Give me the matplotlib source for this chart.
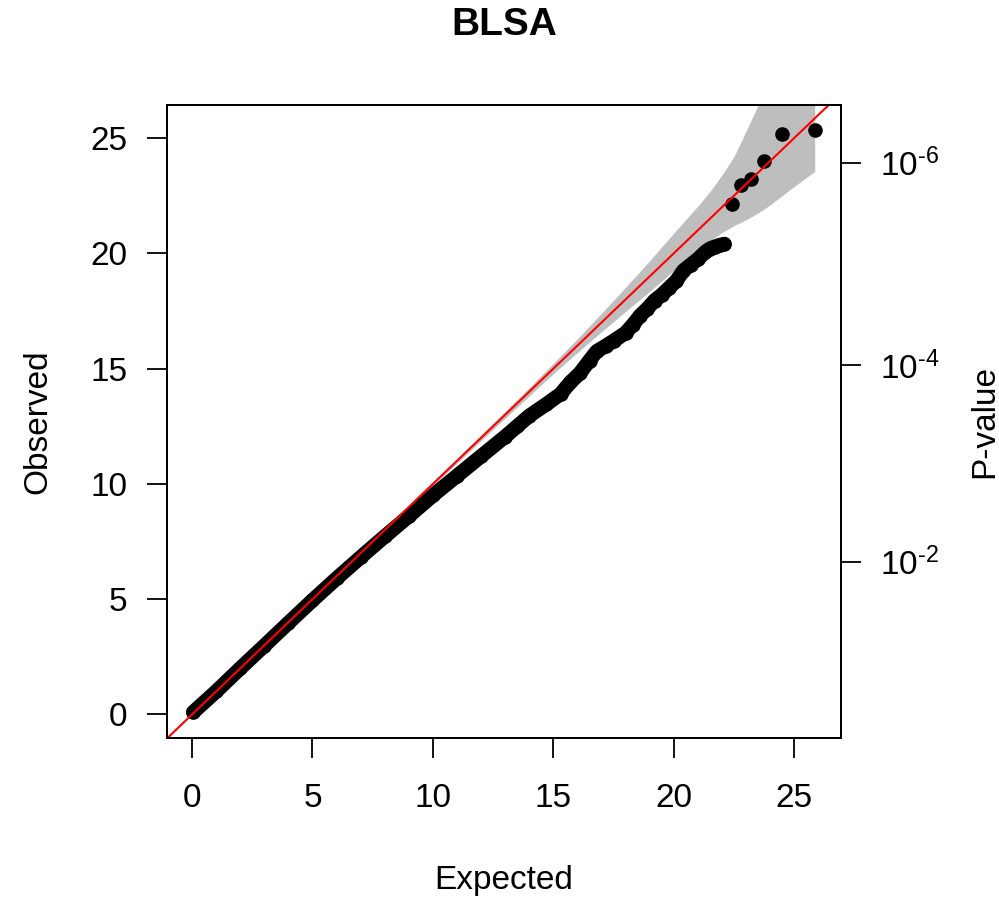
import matplotlib
matplotlib.use("Agg")
import matplotlib.pyplot as plt

plt.rcParams['font.family'] = ['Liberation Sans', 'DejaVu Sans']
plt.rcParams['mathtext.fontset'] = 'custom'
plt.rcParams['mathtext.rm'] = 'Liberation Sans'
plt.rcParams['mathtext.it'] = 'Liberation Sans'
plt.rcParams['mathtext.bf'] = 'Liberation Sans:bold'

# ---- data ----
title = "BLSA"
x_ticks = [0, 5, 10, 15, 20, 25]
y_ticks = [0, 5, 10, 15, 20, 25]
pval_tick_pos = [6.63, 15.14, 23.93]
pval_tick_labels = [r'$\mathregular{10^{\text{-}2}}$', r'$\mathregular{10^{\text{-}4}}$',
                    r'$\mathregular{10^{\text{-}6}}$']

# dense part of the QQ curve (expected, observed)
dense_expected = [0.05, 1.0, 2.0, 3.0, 4.0, 5.0, 6.0, 7.0, 8.0, 9.0, 10.0, 11.0, 12.0,
                  13.0, 13.5, 14.0, 14.7, 15.3, 15.7, 16.1, 16.5, 16.8, 17.2, 17.5,
                  18.0, 18.3, 18.6, 18.9, 19.2, 19.5, 19.8, 20.1, 20.4, 20.7, 21.0,
                  21.3, 21.5, 21.7, 21.9, 22.1]
dense_observed = [0.10, 1.0, 2.0, 2.98, 3.97, 4.95, 5.9, 6.82, 7.72, 8.6, 9.5, 10.35, 11.2,
                  12.05, 12.5, 12.95, 13.45, 13.9, 14.4, 14.8, 15.35, 15.75, 16.0, 16.2,
                  16.55, 16.9, 17.3, 17.6, 17.95, 18.2, 18.5, 18.8, 19.25, 19.5, 19.75,
                  20.05, 20.2, 20.28, 20.35, 20.4]

# separated top points
top_expected = [22.43, 22.77, 23.22, 23.73, 24.51, 25.85]
top_observed = [22.14, 22.96, 23.2, 24.0, 25.17, 25.35]

# confidence band
band_x = [0, 5, 10, 12, 14, 15, 16, 17, 18, 19, 20, 21, 21.5, 22, 22.5, 23, 23.5,
          24, 24.5, 25, 25.85]
band_hi = [0, 5.03, 10.07, 12.12, 14.18, 15.23, 16.3, 17.4, 18.53, 19.68, 20.88, 22.05,
           22.68, 23.4, 24.2, 25.3, 26.43, 27.6, 28.7, 30.0, 32.85]
band_lo = [0, 4.97, 9.93, 11.88, 13.82, 14.78, 15.7, 16.6, 17.48, 18.35, 19.25, 20.15,
           20.53, 20.9, 21.2, 21.45, 21.75, 22.1, 22.5, 22.9, 23.55]

# ---- figure ----
W, H = 999, 900
fig = plt.figure(figsize=(W / 100, H / 100), dpi=100)
L, R_, T, B = 167, 841, 105, 738
ax = fig.add_axes([L / W, 1 - B / H, (R_ - L) / W, (B - T) / H])

ax.fill_between(band_x, band_lo, band_hi, color='#BEBEBE', linewidth=0, zorder=1)
ax.plot(dense_expected, dense_observed, color='black', lw=10.5,
        solid_capstyle='round', solid_joinstyle='round', zorder=2)
ax.plot(dense_expected, dense_observed, 'o', color='black', ms=10.5, mew=0, zorder=2)
ax.plot(top_expected, top_observed, 'o', color='black', ms=10.5, mew=0, zorder=2)
ax.axline((0, 0), slope=1, color='red', lw=1.5, zorder=3)

ax.set_xlim(-1.04, 26.94)
ax.set_ylim(-1.02, 26.43)
ax.set_xticks(x_ticks)
ax.set_yticks(y_ticks)
ax.set_xticklabels([str(v) for v in x_ticks])
ax.set_yticklabels([str(v) for v in y_ticks])
ax.tick_params(axis='x', direction='out', length=14.4, width=1.3, labelsize=24, pad=18)
ax.tick_params(axis='y', direction='out', length=14.4, width=1.3, labelsize=24, pad=14)
for s in ax.spines.values():
    s.set_linewidth(1.4)

ax2 = ax.twinx()
ax2.set_ylim(ax.get_ylim())
ax2.set_yticks(pval_tick_pos)
ax2.set_yticklabels(pval_tick_labels)
ax2.tick_params(axis='y', direction='out', length=14.4, width=1.3, labelsize=24, pad=14)
for s in ax2.spines.values():
    s.set_linewidth(1.4)

cx = (L + R_) / 2 / W
cy = 1 - (T + B) / 2 / H
fig.text(cx, 1 - 25 / H, title, ha='center', va='center', fontsize=28, fontweight='bold')
fig.text(cx, 1 - 880 / H, "Expected", ha='center', va='center', fontsize=24)
fig.text(38 / W, cy, "Observed", ha='center', va='center', fontsize=24, rotation=90)
fig.text(985 / W, cy, "P-value", ha='center', va='center', fontsize=24, rotation=90)

fig.savefig("out.png", dpi=100)
